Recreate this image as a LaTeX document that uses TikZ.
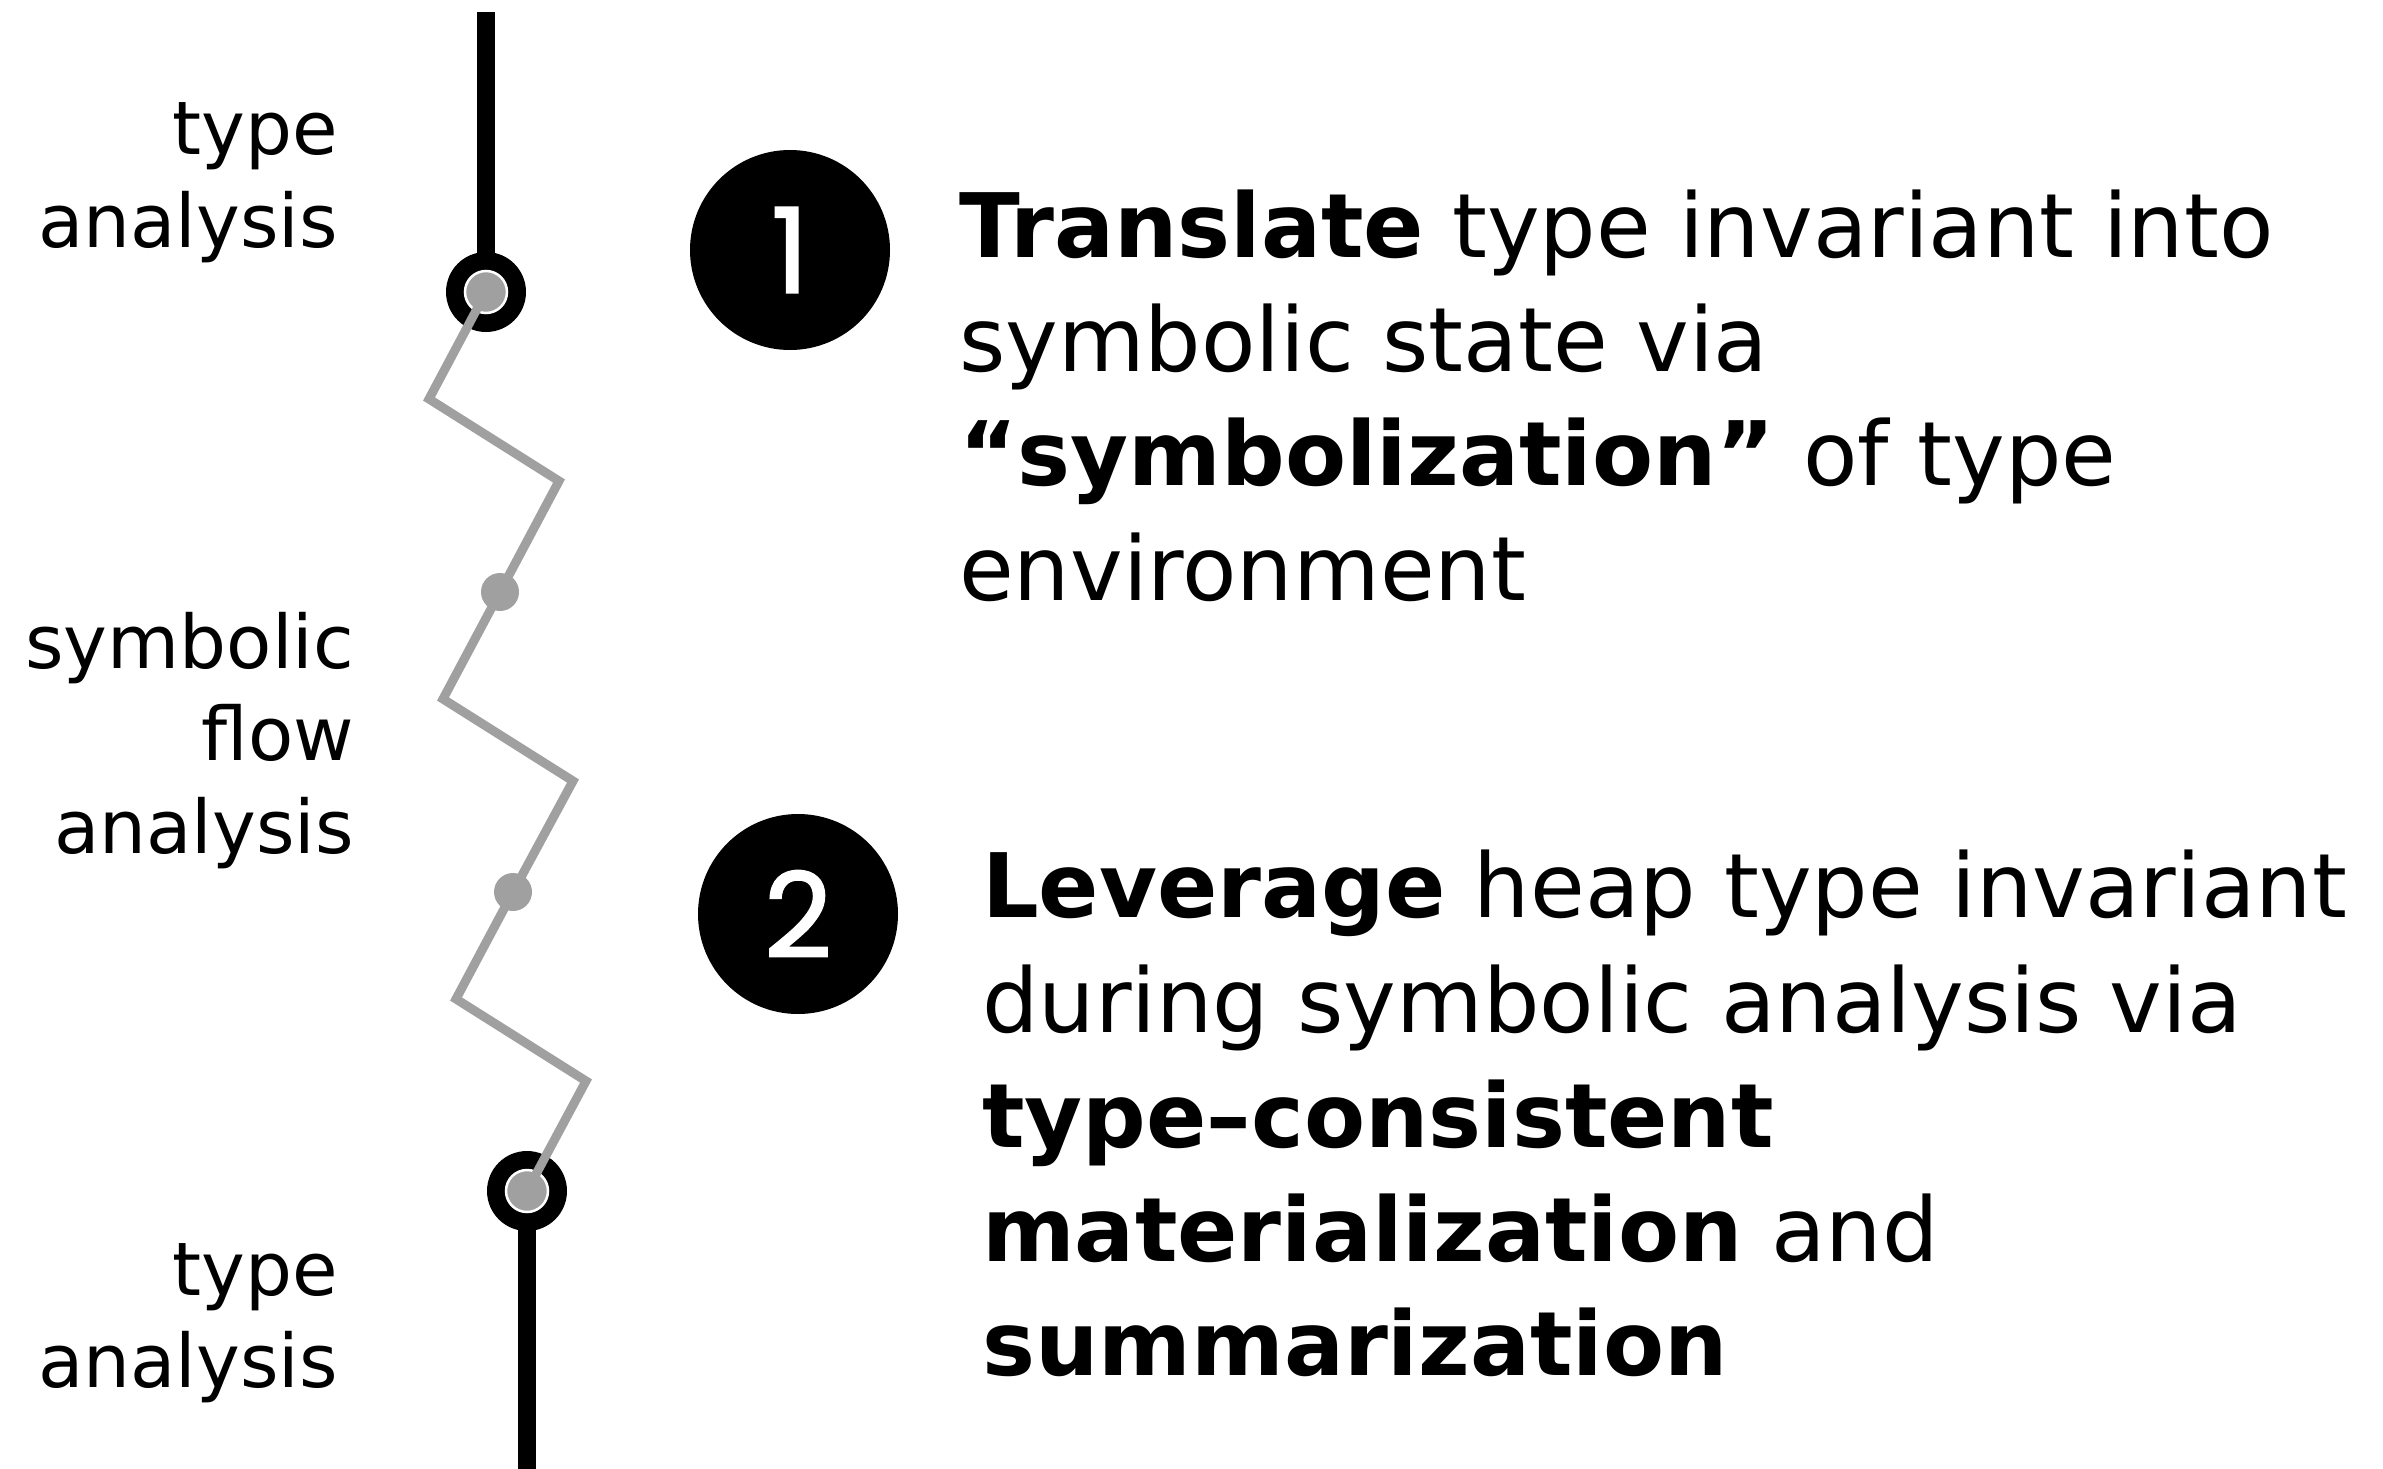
\documentclass[tikz,border=0pt]{standalone}
\usepackage{fontspec}
\setmainfont{DejaVu Sans}
\newfontfamily\digitfont[FakeBold=1.6]{Poppins}
\definecolor{flowgray}{HTML}{A0A0A0}
\begin{document}
\begin{tikzpicture}[x=1pt,y=-1pt,
  typeline/.style={line width=18pt, black},
  ring/.style={circle, fill=black, minimum size=80pt, inner sep=0pt},
  hub/.style={circle, fill=flowgray, draw=white, line width=2.5pt, minimum size=42pt, inner sep=0pt},
  zig/.style={flowgray, line width=9pt, line join=miter},
  flowdot/.style={circle, fill=flowgray, minimum size=38pt, inner sep=0pt},
  stage/.style={circle, fill=black, minimum size=200pt, inner sep=0pt, text=white,
    font=\digitfont\fontsize{118}{118}\selectfont},
  sidelabel/.style={anchor=base east, inner sep=0pt, font=\fontsize{74}{92}\selectfont},
  bodyline/.style={anchor=base west, inner sep=0pt, font=\fontsize{89}{114}\selectfont},
]
\useasboundingbox (0,0) rectangle (2383,1469);

% timeline key points
\coordinate (topend) at (486,12);
\coordinate (botend) at (527,1469);
\coordinate (c0) at (486,292);
\coordinate (l0) at (429,399);
\coordinate (r1) at (559,481);
\coordinate (c1) at (500,592);
\coordinate (l1) at (443,699);
\coordinate (r2) at (573,781);
\coordinate (c2) at (513,892);
\coordinate (l2) at (456,999);
\coordinate (r3) at (586,1081);
\coordinate (c3) at (527,1191);

% type analysis segments
\draw[typeline] (topend) -- (c0);
\draw[typeline] (c3) -- (botend);
\node[ring] (ringtop) at (c0) {};
\node[ring] (ringbot) at (c3) {};
\node[hub] (hubtop) at (c0) {};
\node[hub] (hubbot) at (c3) {};

% symbolic flow zigzag
\draw[zig] (c0) -- (l0) -- (r1) -- (c1) -- (l1) -- (r2) -- (c2) -- (l2) -- (r3) -- (c3);
\node[flowdot] (dot1) at (c1) {};
\node[flowdot] (dot2) at (c2) {};

% side labels
\node[sidelabel] (ta1a) at (338,155) {type};
\node[sidelabel] (ta1b) at (338,247) {analysis};
\node[sidelabel] (sfa1) at (354,668) {symbolic};
\node[sidelabel] (sfa2) at (354,760) {flow};
\node[sidelabel] (sfa3) at (354,853) {analysis};
\node[sidelabel] (ta2a) at (338,1295) {type};
\node[sidelabel] (ta2b) at (338,1387) {analysis};

% numbered steps
\node[stage] (step1) at (790,250) {1};
\node[stage] (step2) at (798,914) {2};

% step descriptions
\node[bodyline] (s1l1) at (959,257) {\textbf{Translate} type invariant into};
\node[bodyline] (s1l2) at (959,371) {symbolic state via};
\node[bodyline] (s1l3) at (959,485) {\textbf{“symbolization”} of type};
\node[bodyline] (s1l4) at (959,600) {environment};

\node[bodyline] (s2l1) at (982,917) {\textbf{Leverage} heap type invariant};
\node[bodyline] (s2l2) at (982,1032) {during symbolic analysis via};
\node[bodyline] (s2l3) at (982,1147) {\textbf{type–consistent}};
\node[bodyline] (s2l4) at (982,1261) {\textbf{materialization} and};
\node[bodyline] (s2l5) at (982,1375) {\textbf{summarization}};
\end{tikzpicture}
\end{document}
